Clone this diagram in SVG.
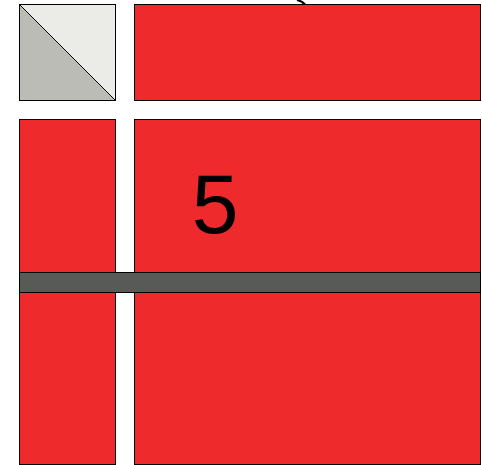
<svg xmlns="http://www.w3.org/2000/svg" width="482" height="465" viewBox="0 0 482 465">
<style>
.red{fill:#ef2a2c;stroke:#000;stroke-width:1}
.bar{fill:#585a55;stroke:#000;stroke-width:1}
.lbl{font-family:"Liberation Sans",Arial,sans-serif;font-size:84px;fill:#000}
</style>
<g id="corner">
<rect x="19.5" y="4.5" width="96" height="96" fill="#ebebe8" stroke="#000"/>
<polygon points="19.5,4.5 115.5,100.5 19.5,100.5" fill="#babcb5"/>
<line x1="19.5" y1="4.5" x2="115.5" y2="100.5" stroke="#000"/>
<rect x="19.5" y="4.5" width="96" height="96" fill="none" stroke="#000"/>
</g>
<g id="top">
<rect class="red" x="134.5" y="4.5" width="346" height="96"/>
</g>
<g id="left">
<rect class="red" x="19.5" y="119.5" width="96" height="345"/>
</g>
<g id="main">
<rect class="red" x="134.5" y="119.5" width="346" height="345"/>
<text class="lbl" x="215" y="233" text-anchor="middle">5</text>
</g>
<g id="bar">
<rect class="bar" x="19.5" y="272.5" width="461" height="20"/>
</g>
<g id="connectors">
<path d="M297,0 Q302,1 305,4.5" fill="none" stroke="#000" stroke-width="2"/>
</g>
</svg>
